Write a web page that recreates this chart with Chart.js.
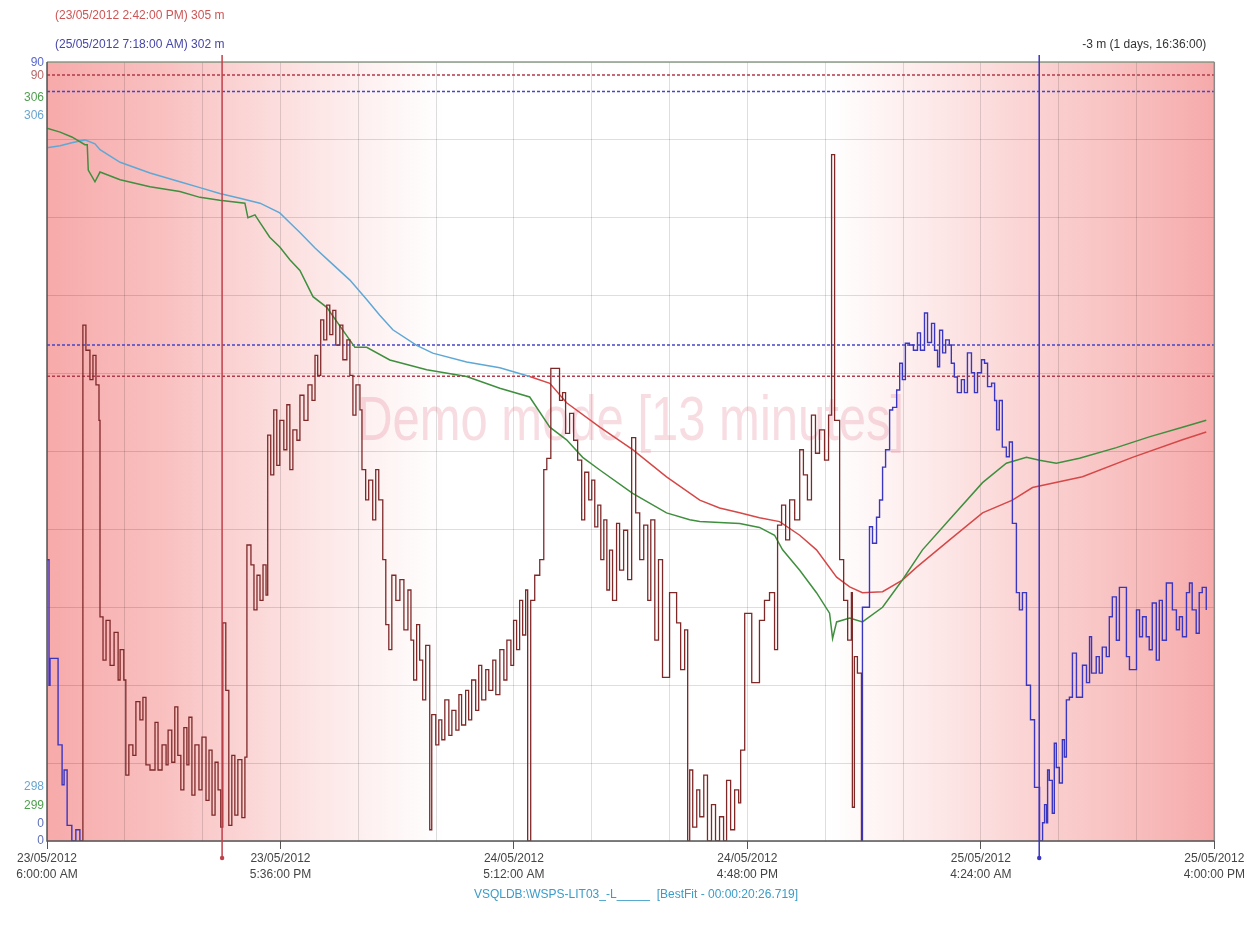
<!DOCTYPE html>
<html><head><meta charset="utf-8">
<script src="https://cdn.jsdelivr.net/npm/chart.js@4.4.1/dist/chart.umd.min.js"></script>
<style>html,body{margin:0;padding:0;background:#fff;overflow:hidden}</style>
</head><body>
<canvas id="c" width="1247" height="930"></canvas>
<script>
// x values are minutes since 23/05/2012 6:00:00 AM
const tickDates = ['23/05/2012','23/05/2012','24/05/2012','24/05/2012','25/05/2012','25/05/2012'];
const tickTimes = ['6:00:00 AM','5:36:00 PM','5:12:00 AM','4:48:00 PM','4:24:00 AM','4:00:00 PM'];
const axisTopLabels = ['90','90','306','306'];
const axisBottomLabels = ['298','299','0','0'];
const cursorTimes = [522, 2958];
const cursorTexts = ['(23/05/2012 2:42:00 PM) 305 m','(25/05/2012 7:18:00 AM) 302 m'];
const diffText = '-3 m (1 days, 16:36:00)';
const sourceText = 'VSQLDB:\\WSPS-LIT03_-L_____  [BestFit - 00:00:20:26.719]';
const watermarkText = 'Demo mode [13 minutes]';
const limitValues = [88.5, 86.6, 57.3, 53.7];

// level series (m), axis 298..306
const lightBluePts = [[0,305.12],[39,305.14],[74,305.17],[113,305.20],[143,305.16],[158,305.10],[218,304.97],[307,304.86],[396,304.77],[456,304.71],[515,304.65],[575,304.60],[635,304.55],[694,304.45],[724,304.35],[754,304.25],[799,304.09],[843,303.95],[903,303.76],[953,303.56],[992,303.40],[1031,303.25],[1102,303.09],[1150,303.01],[1251,302.92],[1350,302.86],[1439,302.77]];
const redPts = [[1439,302.77],[1499,302.70],[1549,302.50],[1648,302.25],[1746,302.02],[1847,301.74],[1946,301.50],[2005,301.42],[2065,301.37],[2124,301.32],[2184,301.28],[2244,301.14],[2294,300.99],[2354,300.71],[2393,300.61],[2431,300.55],[2491,300.56],[2550,300.68],[2592,300.81],[2690,301.09],[2789,301.37],[2878,301.50],[2938,301.63],[3087,301.74],[3236,301.94],[3385,302.12],[3456,302.20]];
const greenPts = [[0,305.32],[39,305.28],[74,305.23],[113,305.15],[120,305.15],[123,304.89],[143,304.77],[158,304.87],[218,304.79],[307,304.72],[396,304.67],[456,304.61],[515,304.58],[590,304.55],[599,304.40],[620,304.43],[635,304.35],[664,304.20],[694,304.10],[724,303.97],[754,303.86],[793,303.59],[834,303.48],[918,303.07],[953,303.07],[1022,302.94],[1132,302.84],[1251,302.77],[1350,302.65],[1439,302.56],[1499,302.25],[1549,302.12],[1597,301.94],[1648,301.81],[1746,301.57],[1847,301.37],[1916,301.30],[1946,301.28],[2005,301.27],[2065,301.26],[2124,301.22],[2169,301.14],[2193,300.99],[2244,300.78],[2294,300.55],[2333,300.34],[2342,300.08],[2354,300.25],[2393,300.29],[2431,300.25],[2491,300.40],[2550,300.68],[2610,300.99],[2690,301.30],[2789,301.68],[2860,301.88],[2920,301.94],[2959,301.91],[3009,301.88],[3078,301.93],[3188,302.04],[3286,302.15],[3385,302.25],[3456,302.32]];

// stepped signal, axis 0..90
const blueStartPts = [[0,32.5],[6,18.0],[9,21.1],[33,11.1],[45,6.5],[51,8.2],[60,1.8],[74,0],[86,1.3],[98,0]];
const brownPts = [[98,0],[107,59.6],[116,56.7],[128,53.3],[137,56.1],[146,52.7],[155,48.6],[158,25.9],[167,20.9],[176,25.5],[188,20.3],[200,24.1],[212,18.6],[218,22.1],[229,18.6],[235,7.6],[244,11.1],[256,9.9],[265,16.1],[277,14.0],[286,16.6],[295,8.8],[307,8.2],[322,13.7],[331,8.2],[343,11.1],[355,8.8],[361,12.8],[372,9.1],[381,15.5],[390,9.9],[399,5.9],[408,13.1],[417,8.8],[423,14.3],[432,5.3],[441,11.1],[453,5.9],[462,12.0],[474,4.7],[483,10.5],[492,3.0],[501,9.1],[510,5.9],[518,1.6],[524,25.2],[533,17.4],[542,1.8],[551,9.9],[560,3.0],[569,9.4],[581,2.7],[590,9.7],[596,34.2],[608,31.9],[617,26.7],[626,30.7],[635,27.8],[644,31.9],[653,28.4],[658,46.9],[667,42.3],[676,49.8],[685,43.4],[694,48.6],[706,45.2],[715,50.4],[724,42.9],[733,47.5],[745,46.3],[754,51.5],[766,48.6],[778,52.7],[790,50.9],[799,56.1],[807,53.8],[816,60.2],[825,57.9],[834,61.9],[843,58.5],[852,61.3],[861,57.3],[873,59.6],[882,55.6],[894,57.9],[903,53.8],[912,49.2],[921,52.7],[933,49.8],[939,42.9],[950,39.4],[959,41.7],[971,37.1],[980,42.9],[989,39.4],[1001,32.5],[1010,25.0],[1019,22.1],[1028,30.7],[1040,27.8],[1052,30.2],[1064,24.4],[1076,29.0],[1085,23.2],[1093,18.6],[1102,25.0],[1111,20.9],[1120,16.3],[1129,22.6],[1141,1.3],[1147,14.6],[1159,11.1],[1168,14.0],[1177,11.7],[1186,16.3],[1198,12.2],[1207,15.1],[1219,12.8],[1228,16.9],[1236,13.4],[1248,17.4],[1257,14.0],[1266,18.6],[1278,15.1],[1287,20.3],[1296,16.3],[1308,19.8],[1317,17.4],[1329,20.9],[1338,16.9],[1350,22.1],[1362,18.6],[1371,23.2],[1383,20.3],[1391,25.5],[1400,22.1],[1409,27.8],[1418,23.8],[1427,29.0],[1433,0],[1442,27.8],[1454,30.7],[1469,32.5],[1481,42.9],[1490,44.2],[1502,54.6],[1528,50.9],[1537,51.8],[1546,47.1],[1558,49.4],[1570,46.3],[1582,44.0],[1594,37.1],[1603,42.6],[1615,39.4],[1624,41.7],[1633,36.3],[1642,38.8],[1651,32.5],[1660,37.1],[1669,29.0],[1677,33.6],[1686,27.8],[1698,36.7],[1707,31.3],[1719,35.9],[1731,30.2],[1743,46.6],[1755,37.9],[1767,32.5],[1779,36.5],[1791,27.8],[1800,37.1],[1812,23.2],[1823,32.5],[1835,18.9],[1856,28.7],[1877,25.2],[1889,19.8],[1901,24.4],[1910,0],[1916,8.2],[1925,1.6],[1937,5.9],[1946,2.8],[1958,7.6],[1969,0],[1981,4.2],[1993,0],[2005,2.8],[2017,0],[2026,7.0],[2038,1.3],[2050,5.9],[2062,4.4],[2068,10.5],[2080,26.3],[2101,18.3],[2124,25.5],[2139,27.8],[2154,28.7],[2169,22.1],[2178,36.5],[2190,38.8],[2202,34.8],[2214,39.4],[2229,37.1],[2244,45.2],[2255,42.3],[2267,39.4],[2279,49.2],[2291,44.8],[2303,47.5],[2318,44.0],[2330,49.2],[2339,79.3],[2348,48.6],[2363,32.5],[2375,27.8],[2387,23.2],[2398,28.7],[2401,3.9],[2407,21.3],[2416,19.4],[2428,0]];
const blueEndPts = [[2428,0],[2431,27.0],[2452,36.3],[2461,34.4],[2473,37.4],[2482,39.4],[2491,43.2],[2500,45.2],[2512,49.8],[2521,50.1],[2533,52.1],[2542,55.2],[2550,53.3],[2559,57.5],[2571,57.3],[2583,56.7],[2595,58.7],[2604,56.7],[2616,61.0],[2625,57.6],[2637,59.8],[2646,56.7],[2655,54.8],[2661,59.0],[2670,56.4],[2679,57.9],[2690,57.3],[2696,55.2],[2705,53.6],[2714,51.8],[2726,53.3],[2735,51.8],[2744,56.4],[2756,54.1],[2765,51.8],[2774,54.1],[2786,55.6],[2795,55.2],[2804,52.5],[2816,52.9],[2825,50.9],[2831,47.5],[2839,50.9],[2848,45.5],[2860,44.4],[2869,46.1],[2878,36.7],[2890,28.7],[2899,26.7],[2908,28.7],[2920,18.0],[2932,14.0],[2944,6.2],[2959,0],[2968,2.1],[2974,4.2],[2980,2.1],[2983,8.2],[2988,7.0],[2997,3.2],[3003,11.3],[3009,8.5],[3018,6.7],[3027,11.7],[3033,9.7],[3039,16.3],[3048,16.6],[3057,21.7],[3069,16.6],[3087,20.3],[3099,18.3],[3108,23.6],[3114,19.4],[3128,21.3],[3137,19.4],[3146,22.4],[3158,21.3],[3167,25.9],[3176,28.2],[3188,23.2],[3197,29.3],[3218,21.3],[3227,19.8],[3248,26.7],[3257,23.6],[3266,25.9],[3277,23.6],[3286,22.1],[3295,27.5],[3307,20.9],[3316,27.8],[3325,23.2],[3337,29.8],[3355,26.7],[3367,24.4],[3376,25.9],[3385,23.6],[3397,28.7],[3406,29.8],[3414,26.7],[3426,24.0],[3435,28.7],[3444,29.3],[3456,26.7]];

const FONT = '"Liberation Sans", Arial, sans-serif';
const toXY = pts => pts.map(p => ({x: p[0], y: p[1]}));
const limitColors = ['#b23a4a', '#4646cc', '#4646cc', '#b23a4a'];

const datasets = [];
datasets.push({data: toXY(blueStartPts), yAxisID: 'y', stepped: true, borderColor: '#3a36c0', borderWidth: 1.4, order: 1});
datasets.push({data: toXY(brownPts), yAxisID: 'y', stepped: true, borderColor: '#7e2828', borderWidth: 1.3, order: 1});
datasets.push({data: toXY(blueEndPts), yAxisID: 'y', stepped: true, borderColor: '#3a36c0', borderWidth: 1.4, order: 1});
datasets.push({data: toXY(lightBluePts), yAxisID: 'yl', borderColor: '#5ea8d6', borderWidth: 1.5, order: 3});
datasets.push({data: toXY(redPts), yAxisID: 'yl', borderColor: '#d64848', borderWidth: 1.5, order: 3});
datasets.push({data: toXY(greenPts), yAxisID: 'yl', borderColor: '#3f8f3f', borderWidth: 1.5, order: 2});
limitValues.forEach((v, i) => datasets.push({data: [{x: 0, y: v}, {x: 3480, y: v}], yAxisID: 'y', borderColor: limitColors[i], borderWidth: 1.5, borderDash: [3, 2], order: 6}));

const decor = {
  id: 'decor',
  beforeDraw(chart) {
    const {ctx, chartArea: a} = chart;
    const g = ctx.createLinearGradient(a.left, 0, a.right, 0);
    g.addColorStop(0, 'rgb(247,170,170)');
    g.addColorStop(0.1, 'rgb(249,192,192)');
    g.addColorStop(0.2, 'rgb(252,222,222)');
    g.addColorStop(0.28, 'rgb(254,242,242)');
    g.addColorStop(0.34, '#ffffff');
    g.addColorStop(0.67, '#ffffff');
    g.addColorStop(0.73, 'rgb(254,240,240)');
    g.addColorStop(0.83, 'rgb(251,214,214)');
    g.addColorStop(0.93, 'rgb(248,190,190)');
    g.addColorStop(1, 'rgb(246,170,170)');
    ctx.save();
    ctx.fillStyle = g;
    ctx.fillRect(a.left, a.top, a.right - a.left, a.bottom - a.top);
    ctx.restore();
  },
  beforeDatasetsDraw(chart) {
    const {ctx, chartArea: a} = chart;
    ctx.save();
    ctx.font = '63px ' + FONT;
    const w = ctx.measureText(watermarkText).width;
    const target = 547;
    const cx = a.left + (a.right - a.left) * 0.5;
    ctx.translate(cx, a.top + 378);
    ctx.scale(target / w, 1);
    ctx.fillStyle = 'rgba(228,130,150,0.28)';
    ctx.textAlign = 'center';
    ctx.textBaseline = 'alphabetic';
    ctx.fillText(watermarkText, 0, 0);
    ctx.restore();
  },
  afterDatasetsDraw(chart) {
    const {ctx, chartArea: a, scales} = chart;
    ctx.save();
    ctx.lineWidth = 1.5;
    ctx.strokeStyle = '#8e9c88';
    ctx.beginPath(); ctx.moveTo(a.left, a.top); ctx.lineTo(a.right, a.top); ctx.stroke();
    ctx.strokeStyle = '#8a8a8a';
    ctx.beginPath(); ctx.moveTo(a.right, a.top); ctx.lineTo(a.right, a.bottom); ctx.stroke();
    ctx.strokeStyle = '#555';
    ctx.beginPath(); ctx.moveTo(a.left, a.top); ctx.lineTo(a.left, a.bottom); ctx.lineTo(a.right, a.bottom); ctx.stroke();
    const cColors = ['#c0404a', '#3a36c0'];
    cursorTimes.forEach((t, i) => {
      const x = scales.x.getPixelForValue(t);
      ctx.strokeStyle = cColors[i];
      ctx.lineWidth = 1.5;
      ctx.beginPath(); ctx.moveTo(x, a.top - 7); ctx.lineTo(x, a.bottom + 17); ctx.stroke();
      ctx.fillStyle = cColors[i];
      ctx.beginPath(); ctx.arc(x, a.bottom + 17, 2.2, 0, Math.PI * 2); ctx.fill();
    });
    ctx.font = '12px ' + FONT;
    ctx.textBaseline = 'middle';
    ctx.textAlign = 'left';
    ctx.fillStyle = '#cc5555';
    ctx.fillText(cursorTexts[0], 55, 16);
    ctx.fillStyle = '#4646a8';
    ctx.fillText(cursorTexts[1], 55, 45);
    ctx.textAlign = 'right';
    ctx.fillStyle = '#333';
    ctx.fillText(diffText, a.right - 8, 45);
    const topCols = ['#5a68d0', '#b86868', '#4f9f4f', '#6aa6d0'];
    const topOff = [1, 14, 36, 54];
    const botCols = ['#6aa6d0', '#4f9f4f', '#6070b8', '#6070b8'];
    const botOff = [-54, -35, -17, 0];
    axisTopLabels.forEach((s, i) => { ctx.fillStyle = topCols[i]; ctx.fillText(s, a.left - 3, a.top + topOff[i]); });
    axisBottomLabels.forEach((s, i) => { ctx.fillStyle = botCols[i]; ctx.fillText(s, a.left - 3, a.bottom + botOff[i]); });
    ctx.textAlign = 'center';
    ctx.fillStyle = '#3a9cc8';
    ctx.fillText(sourceText, 636, 895);
    ctx.restore();
  }
};

new Chart(document.getElementById('c'), {
  type: 'line',
  data: {datasets},
  options: {
    responsive: false,
    animation: false,
    events: [],
    devicePixelRatio: 1,
    layout: {padding: {left: 47, right: 32, top: 62, bottom: 0}},
    elements: {point: {radius: 0}, line: {tension: 0}},
    plugins: {legend: {display: false}, tooltip: {enabled: false}, title: {display: false}},
    scales: {
      x: {
        type: 'linear', min: 0, max: 3480,
        ticks: {
          stepSize: 232, autoSkip: false, maxRotation: 0, minRotation: 0, padding: 2, color: '#444',
          font: {family: FONT, size: 12, lineHeight: 1.3},
          callback: v => { const i = Math.round(v / 696); return Math.abs(v - i * 696) < 0.5 ? [tickDates[i], tickTimes[i]] : ''; }
        },
        grid: {
          color: 'rgba(0,0,0,0.13)', tickLength: 8,
          tickColor: c => (c.tick && Math.abs(c.tick.value % 696) < 0.5) ? '#555' : 'rgba(0,0,0,0)'
        },
        border: {display: false},
        afterFit: s => { s.height = 89; }
      },
      y: {
        min: 0, max: 90,
        ticks: {display: false, stepSize: 9},
        grid: {color: 'rgba(0,0,0,0.13)', drawTicks: false},
        border: {display: false},
        afterFit: s => { s.width = 0; }
      },
      yl: {min: 298, max: 306, display: false}
    }
  },
  plugins: [decor]
});
</script>
</body></html>
